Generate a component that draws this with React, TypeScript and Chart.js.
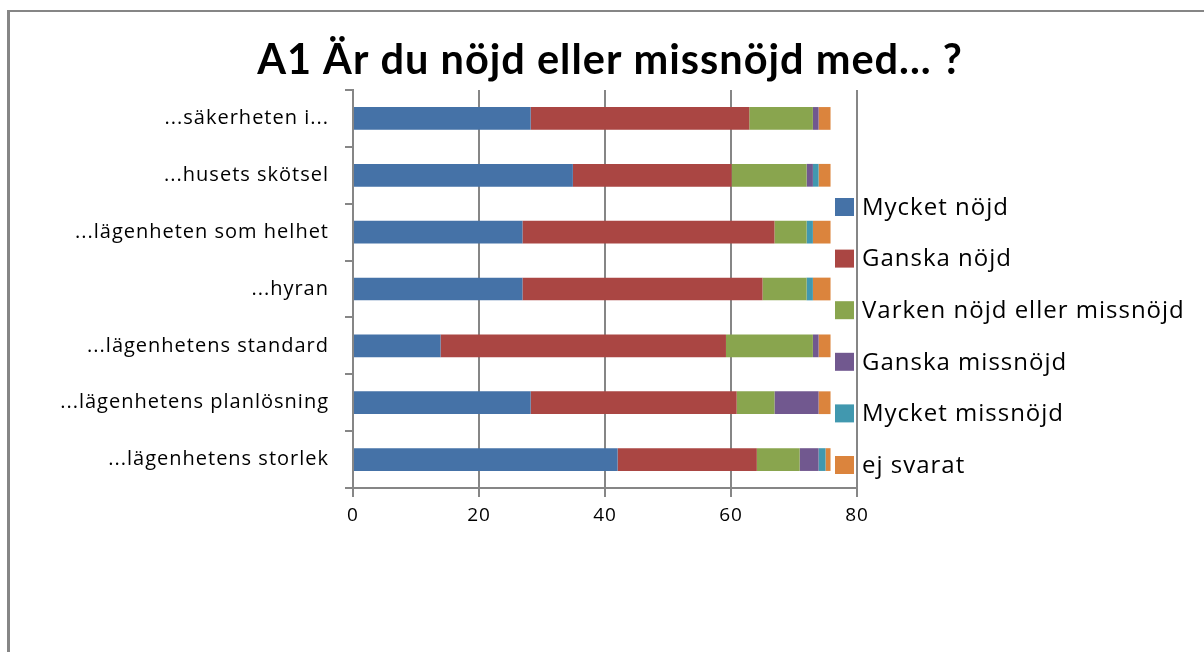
import React, { useEffect, useRef } from 'react';
import { Chart, registerables, layouts } from 'chart.js';

Chart.register(...registerables);

const categories = [
  '...säkerheten i...',
  '...husets skötsel',
  '...lägenheten som helhet',
  '...hyran',
  '...lägenhetens standard',
  '...lägenhetens planlösning',
  '...lägenhetens storlek',
];

const seriesNames = [
  'Mycket nöjd',
  'Ganska nöjd',
  'Varken nöjd eller missnöjd',
  'Ganska missnöjd',
  'Mycket missnöjd',
  'ej svarat',
];

const mycketNojd = [28.2, 34.9, 26.9, 26.9, 13.9, 28.2, 42.0];
const ganskaNojd = [34.7, 25.2, 40.0, 38.1, 45.3, 32.7, 22.1];
const varken = [10.1, 11.9, 5.1, 7.0, 13.8, 6.0, 6.8];
const ganskaMissnojd = [0.9, 1.0, 0, 0, 0.9, 7.0, 3.0];
const mycketMissnojd = [0, 0.9, 1.0, 1.0, 0, 0, 1.1];
const ejSvarat = [1.9, 1.9, 2.8, 2.8, 1.9, 1.9, 0.8];

const xMin = 0;
const xMax = 80;
const xStep = 20;

const titleText = 'A1 Är du nöjd eller missnöjd med... ?';

const seriesColors = ['#4572A7', '#AA4643', '#89A54E', '#71588F', '#4198AF', '#DB843D'];

const TITLE_FONT = 'Lato, "Open Sans", sans-serif';
const FONT = '"Open Sans", Lato, sans-serif';
const GRID = '#868686';

const framePlugin = {
  id: 'outerFrame',
  beforeDraw(chart: any) {
    const ctx = chart.ctx;
    ctx.save();
    ctx.strokeStyle = GRID;
    ctx.lineWidth = 3;
    ctx.beginPath();
    ctx.moveTo(8.5, chart.height);
    ctx.lineTo(8.5, 11);
    ctx.stroke();
    ctx.lineWidth = 2;
    ctx.beginPath();
    ctx.moveTo(7, 11);
    ctx.lineTo(chart.width, 11);
    ctx.stroke();
    ctx.restore();
    // slightly looser text, like the wide original
    ctx.letterSpacing = '1px';
  },
  afterDraw(chart: any) {
    chart.ctx.letterSpacing = '0px';
  },
};

const sideLegendPlugin = {
  id: 'sideLegend',
  beforeInit(chart: any) {
    const box: any = {
      position: 'right',
      weight: 0,
      fullSize: false,
      options: {},
      top: 0,
      left: 0,
      right: 0,
      bottom: 0,
      width: 0,
      height: 0,
      isHorizontal() {
        return false;
      },
      update(_maxWidth: number, maxHeight: number) {
        this.width = 347;
        this.height = maxHeight;
      },
      draw() {
        const ctx = chart.ctx;
        const area = chart.chartArea;
        ctx.save();
        ctx.font = `24px ${FONT}`;
        ctx.textBaseline = 'middle';
        ctx.textAlign = 'left';
        chart.data.datasets.forEach((ds: any, i: number) => {
          const cy = area.top + 117 + i * 51.6;
          const x = area.right - 22;
          ctx.fillStyle = ds.backgroundColor;
          ctx.fillRect(x, cy - 9, 19, 18);
          ctx.fillStyle = '#000';
          ctx.fillText(ds.label, x + 27, cy + 1);
        });
        ctx.restore();
      },
    };
    layouts.addBox(chart, box);
  },
};

export default function App() {
  const canvasRef = useRef<HTMLCanvasElement | null>(null);

  useEffect(() => {
    document.body.style.margin = '0';
    const canvas = canvasRef.current;
    if (!canvas) return;
    const seriesData = [mycketNojd, ganskaNojd, varken, ganskaMissnojd, mycketMissnojd, ejSvarat];
    const chart = new Chart(canvas, {
      type: 'bar',
      data: {
        labels: categories,
        datasets: seriesNames.map((name, i) => ({
          label: name,
          data: seriesData[i],
          backgroundColor: seriesColors[i],
          borderWidth: 0,
          barPercentage: 0.4,
          categoryPercentage: 1,
        })),
      },
      options: {
        indexAxis: 'y',
        responsive: false,
        animation: false,
        devicePixelRatio: 1,
        layout: { padding: { left: 16, right: 0, top: 0, bottom: 0 } },
        plugins: {
          legend: { display: false },
          tooltip: { enabled: false },
          title: {
            display: true,
            text: titleText,
            color: '#000',
            font: { family: TITLE_FONT, size: 41.5, weight: 'bold' },
            padding: { top: 36.1, bottom: 4.1 },
          },
        },
        scales: {
          x: {
            stacked: true,
            min: xMin,
            max: xMax,
            ticks: {
              stepSize: xStep,
              color: '#000',
              font: { family: FONT, size: 19 },
              padding: 7,
            },
            grid: {
              color: GRID,
              lineWidth: 2,
              drawTicks: true,
              tickLength: 9,
            },
            border: { color: GRID, width: 2 },
            afterFit(scale: any) {
              scale.height = 164;
            },
          },
          y: {
            stacked: true,
            ticks: {
              color: '#000',
              font: { family: FONT, size: 20 },
              padding: 16,
            },
            grid: {
              drawOnChartArea: false,
              drawTicks: true,
              tickLength: 8,
              color: GRID,
              lineWidth: 2,
              offset: true,
            },
            border: { color: GRID, width: 2 },
            afterFit(scale: any) {
              scale.width = 337;
            },
          },
        },
      },
      plugins: [framePlugin, sideLegendPlugin],
    } as any);
    return () => chart.destroy();
  }, []);

  return (
    <div style={{ width: 1204, height: 652, position: 'relative', background: '#fff' }}>
      <canvas ref={canvasRef} width={1204} height={652} style={{ width: 1204, height: 652, display: 'block' }} />
    </div>
  );
}
